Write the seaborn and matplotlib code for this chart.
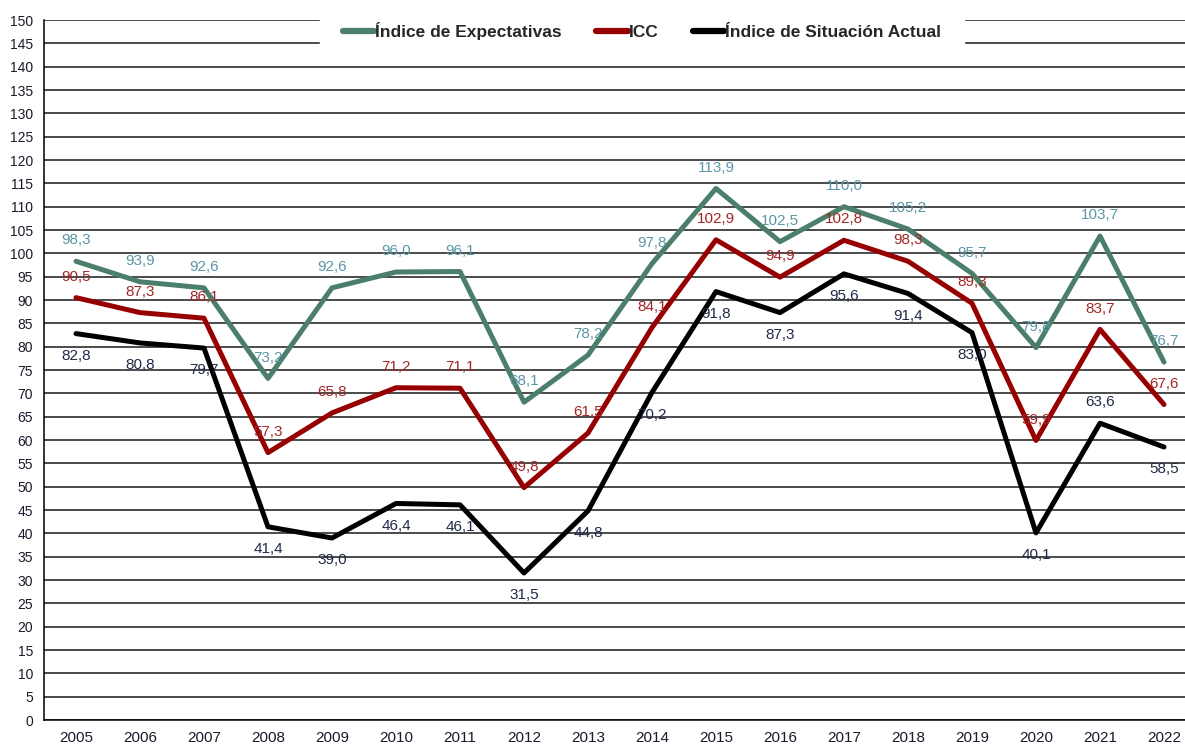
import pandas as pd
import matplotlib.pyplot as plt
import seaborn as sns
from matplotlib.ticker import MultipleLocator, FixedLocator

years = [str(y) for y in range(2005, 2023)]
expectativas = [98.3, 93.9, 92.6, 73.2, 92.6, 96.0, 96.1, 68.1, 78.2, 97.8,
                113.9, 102.5, 110.0, 105.2, 95.7, 79.8, 103.7, 76.7]
icc = [90.5, 87.3, 86.1, 57.3, 65.8, 71.2, 71.1, 49.8, 61.5, 84.1,
       102.9, 94.9, 102.8, 98.3, 89.3, 59.9, 83.7, 67.6]
actual = [82.8, 80.8, 79.7, 41.4, 39.0, 46.4, 46.1, 31.5, 44.8, 70.2,
          91.8, 87.3, 95.6, 91.4, 83.0, 40.1, 63.6, 58.5]

series_names = ["Índice de Expectativas", "ICC", "Índice de Situación Actual"]
line_colors = ["#4B7F6C", "#960000", "#000000"]
label_colors = ["#5A97A6", "#A32626", "#1E2A48"]

df = pd.DataFrame({"Año": years * 3,
                   "Valor": expectativas + icc + actual,
                   "Serie": [series_names[0]] * 18 + [series_names[1]] * 18 + [series_names[2]] * 18})
df["pos"] = list(range(18)) * 3

sns.set_style("white")
plt.rcParams['font.family'] = ['Liberation Sans', 'DejaVu Sans']

fig = plt.figure(figsize=(11.85, 7.45), dpi=100)
ax = fig.add_axes([44 / 1185, 25 / 745, 1152 / 1185, 700 / 745])

ax.yaxis.grid(True, color="#1a1a1a", linewidth=1.1)
ax.set_axisbelow(True)

sns.lineplot(data=df, x="pos", y="Valor", hue="Serie", hue_order=series_names,
             palette=line_colors, linewidth=3.6, ax=ax, legend=True, zorder=3)

# etiquetas de datos
for name, vals, col in zip(series_names, [expectativas, icc, actual], label_colors):
    for i, v in enumerate(vals):
        dy = 15
        if name == series_names[2]:
            dy = -16 if years[i] != "2021" else 15
        ax.annotate(f"{v:.1f}".replace(".", ","), (i, v), xytext=(0, dy),
                    textcoords="offset points", ha="center", va="center",
                    color=col, fontsize=11, zorder=4)

ax.set_xlim(-0.5, 17.5)
ax.set_ylim(0, 150)
ax.yaxis.set_major_locator(MultipleLocator(5))
ax.set_xticks(range(18))
ax.set_xticklabels(years)
ax.xaxis.set_minor_locator(FixedLocator([i - 0.5 for i in range(19)]))
ax.tick_params(axis="x", which="major", length=0, pad=8, labelsize=11, labelcolor="#1a1a2a")
ax.tick_params(axis="x", which="minor", length=5, width=1, color="black", direction="out")
ax.tick_params(axis="y", length=5, width=1, color="black", direction="out",
               labelsize=10, labelcolor="#1a1a2a", pad=3)
ax.set_xlabel("")
ax.set_ylabel("")

for side in ["top", "right"]:
    ax.spines[side].set_visible(False)
for side in ["left", "bottom"]:
    ax.spines[side].set_color("black")
    ax.spines[side].set_linewidth(1.1)

handles, labels = ax.get_legend_handles_labels()
ax.get_legend().remove()
leg = fig.legend(handles, labels, loc="center", bbox_to_anchor=(642 / 1185, 1 - 31 / 745), ncol=3,
                 frameon=True, facecolor="white", edgecolor="white", framealpha=1,
                 fancybox=False, handlelength=1.8, handletextpad=0.05, columnspacing=2.0,
                 borderpad=1.3, borderaxespad=0, prop={"weight": "bold", "size": 12.5})
leg.set_zorder(10)
for line in leg.get_lines():
    line.set_linewidth(4.5)

fig.savefig("out.png", dpi=100)
